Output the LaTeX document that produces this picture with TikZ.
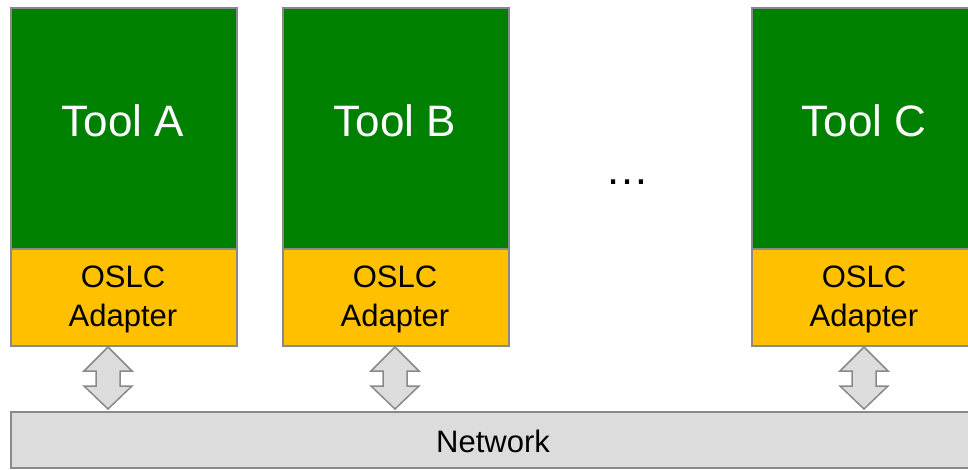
\documentclass[tikz,border=0pt]{standalone}
\usepackage{fontspec}
\setmainfont{Liberation Sans}
\definecolor{toolgreen}{RGB}{0,128,0}
\definecolor{adapteryellow}{RGB}{255,192,0}
\definecolor{netgray}{RGB}{220,220,220}
\definecolor{edgegray}{RGB}{137,137,137}
\tikzset{
  toolbox/.style={draw=edgegray, line width=1.5pt, fill=toolgreen, anchor=north west,
    minimum width=226pt, minimum height=241pt, inner sep=0pt},
  adapterbox/.style={draw=edgegray, line width=1.5pt, fill=adapteryellow, anchor=north west,
    minimum width=226pt, minimum height=97pt, inner sep=0pt},
  netbox/.style={draw=edgegray, line width=1.5pt, fill=netgray, anchor=north west,
    minimum width=966pt, minimum height=56pt, inner sep=0pt},
  tooltext/.style={text=white, font=\fontsize{44}{48}\selectfont, inner sep=0pt},
  adaptertext/.style={align=center, font=\fontsize{31}{39}\selectfont, inner sep=0pt},
  nettext/.style={font=\fontsize{31}{36}\selectfont, inner sep=0pt},
  dblarrow/.style={draw=edgegray, line width=1.5pt, fill=netgray, line join=miter}
}
\begin{document}
\begin{tikzpicture}[x=1pt, y=-1pt]
    \useasboundingbox (0,0) rectangle (968,469);
    \clip (0,0) rectangle (968,469);
    % Netzwerk unten
    \node[netbox] (net) at (10,411) {};
    \node[nettext] (netlbl) at (493,441) {Network};
    % die Werkzeuge mit ihren Adaptern
    \foreach \t/\x/\ax in {A/10/108, B/282/395, C/751/864} {
        \node[toolbox] (tool\t) at (\x,7) {};
        \node[adapterbox] (adapter\t) at (\x,248) {};
        \node[tooltext] (toollbl\t) at (\x+113,121) {Tool \t};
        \node[adaptertext] (adapterlbl\t) at (\x+113,299) {OSLC\\Adapter};
        % Doppelpfeil zwischen Adapter und Netzwerk
        \coordinate (up\t) at (\ax,347);
        \coordinate (dn\t) at (\ax,409);
        \draw[dblarrow] (up\t) -- ++(24,24) -- ++(-12,0) -- ++(0,15) -- ++(12,0)
            -- (dn\t) -- ++(-24,-23) -- ++(12,0) -- ++(0,-15) -- ++(-12,0) -- cycle;
    }
    % Auslassungspunkte
    \node[tooltext, text=black] (dots) at (627.5,182) {\dots};
\end{tikzpicture}
\end{document}
